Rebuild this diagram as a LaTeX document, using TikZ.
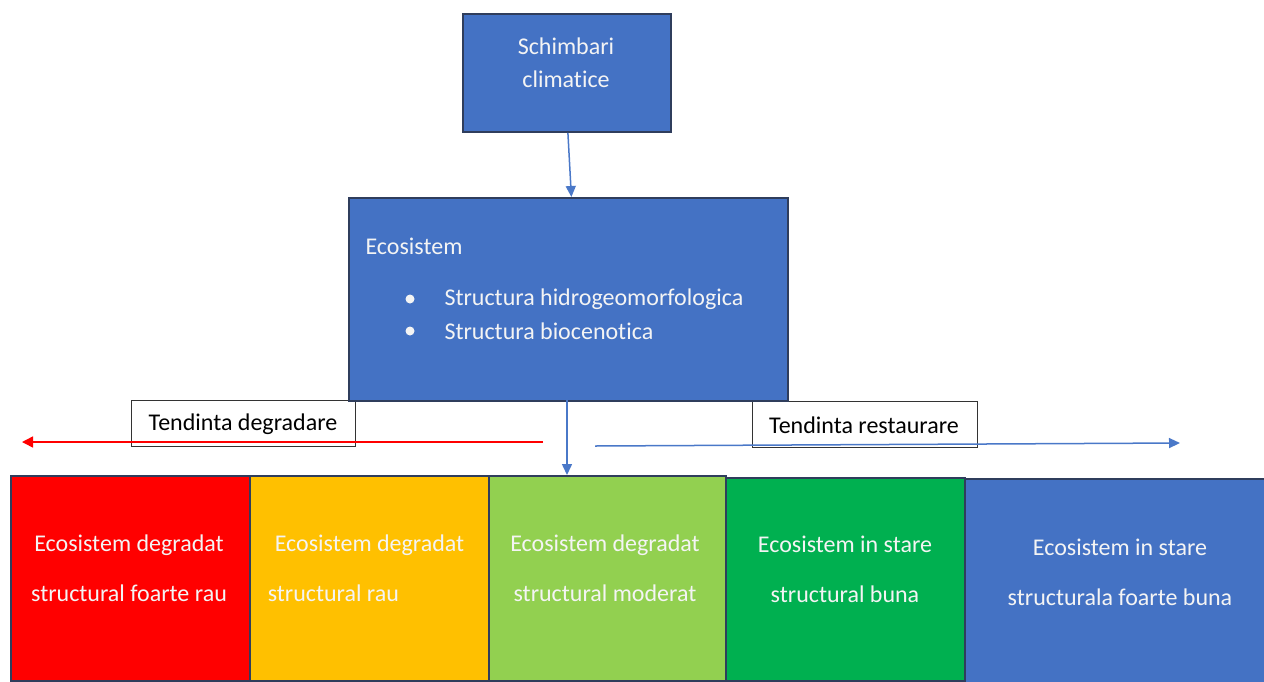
\documentclass[tikz,border=0pt]{standalone}
\usepackage{fontspec}
\setmainfont[Ligatures={NoCommon}]{Carlito}
\usetikzlibrary{arrows.meta,calc}
\definecolor{cblue}{HTML}{4472C4}
\definecolor{cedge}{HTML}{2F3D5C}
\definecolor{cred}{HTML}{FF0000}
\definecolor{corange}{HTML}{FFC000}
\definecolor{clgreen}{HTML}{92D050}
\definecolor{cgreen}{HTML}{00B050}
\definecolor{ctext}{HTML}{F4F4F4}
\definecolor{carrow}{HTML}{4A78C8}
\begin{document}
\begin{tikzpicture}[x=1pt,y=-1pt,
  box/.style={draw=cedge,line width=1.8pt,inner sep=0pt,text=ctext},
  lbl/.style={draw=black!80,line width=1.1pt,fill=white,inner sep=0pt,minimum height=46pt},
  btxt/.style={align=center,text=ctext,font=\fontsize{24}{50}\selectfont},
  ftx/.style={font=\fontsize{24}{28}\selectfont},
  barrow/.style={draw=carrow,line width=1.5pt,-{Triangle[length=11pt,width=10pt]}}
]
\useasboundingbox (0,0) rectangle (1264,681);
% top box
\node[box,fill=cblue,minimum width=208pt,minimum height=118pt,anchor=north west] (clim) at (462,13) {};
\node[text=ctext,font=\fontsize{24}{33}\selectfont,align=center] (climt) at (566,63) {Schimbari\\climatice};
% label boxes (before eco so eco overlaps)
\node[lbl,minimum width=224pt,anchor=north west] (deg) at (131,400) {};
\node[lbl,minimum width=225pt,anchor=north west] (res) at (752,401) {};
% ecosystem box
\node[box,fill=cblue,minimum width=439pt,minimum height=203pt,anchor=north west] (eco) at (348,197) {};
\node[anchor=west,text=ctext,ftx] (ecot) at (362,246) {Ecosistem};
\node[anchor=west,text=ctext,ftx] (b1) at (441,299) {Structura hidrogeomorfologica};
\node[anchor=west,text=ctext,ftx] (b2) at (441,331) {Structura biocenotica};
\fill[ctext] (410,299) circle (4.5pt) (410,331) circle (4.5pt);
% label texts
\node[ftx] (degt) at (243,424) {Tendinta degradare};
\node[ftx] (rest) at (864,425) {Tendinta restaurare};
% bottom boxes
\node[box,fill=cred,minimum width=239pt,minimum height=205pt,anchor=north west] (s1) at (10,475) {};
\node[box,fill=corange,minimum width=239pt,minimum height=205pt,anchor=north west] (s2) at (249,475) {};
\node[box,fill=clgreen,minimum width=237pt,minimum height=205pt,anchor=north west] (s3) at (488,475) {};
\node[box,fill=cgreen,minimum width=239pt,minimum height=203pt,anchor=north west] (s4) at (725,477) {};
\node[box,fill=cblue,minimum width=302pt,minimum height=205pt,anchor=north west] (s5) at (964,478) {};
\node[btxt] (t1) at (129,568) {Ecosistem degradat\\structural foarte rau};
\node[btxt,align=left] (t2) at (366,568) {\hspace*{7pt}Ecosistem degradat\\structural rau};
\node[btxt] (t3) at (605,568) {Ecosistem degradat\\structural moderat};
\node[btxt] (t4) at (845,569) {Ecosistem in stare\\structural buna};
\node[btxt] (t5) at (1120,572) {Ecosistem in stare\\structurala foarte buna};
% connectors
\draw[barrow] ([xshift=1pt]clim.south) -- ([xshift=3pt]eco.north);
\coordinate (ecoout) at (567,400);
\draw[barrow] (ecoout) -- (ecoout |- s3.north);
\coordinate (rstart) at (543,442);
\coordinate (rend) at (22,442);
\draw[draw=cred,line width=1.5pt,-{Triangle[length=11pt,width=11pt]}] (rstart) -- (rend);
\coordinate (bstart) at (595,446);
\coordinate (bend) at (1180,443);
\draw[barrow] (bstart) -- (bend);
\end{tikzpicture}
\end{document}
